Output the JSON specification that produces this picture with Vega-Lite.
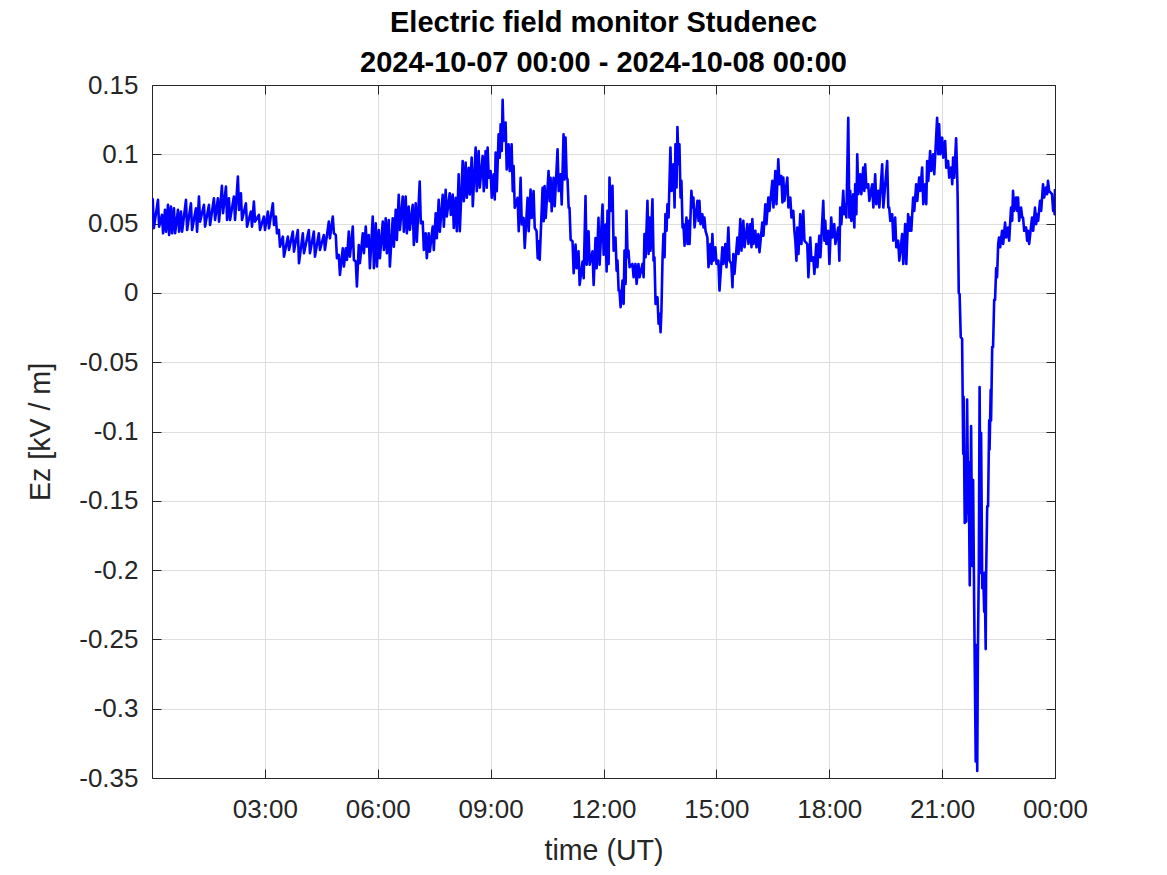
{
"$schema": "https://vega.github.io/schema/vega-lite/v6.json",
"width": 903, "height": 693,
"autosize": {"type": "none"},
"padding": {"left": 152, "top": 85, "right": 112, "bottom": 97},
"background": "white",
"config": {"view": {"stroke": null}, "font": "Liberation Sans"},
"title": {"text": ["Electric field monitor Studenec", "2024-10-07 00:00 - 2024-10-08 00:00"], "font": "Liberation Sans", "fontSize": 29, "fontWeight": "bold", "color": "#000000", "lineHeight": 40, "offset": -6, "anchor": "middle"},
"data": {"values": [
{"t":0.019,"v":0.0683},{"t":0.049,"v":0.0467},{"t":0.159,"v":0.0671},{"t":0.189,"v":0.0478},{"t":0.265,"v":0.0563},{"t":0.295,"v":0.0430},{"t":0.345,"v":0.0599},{"t":0.375,"v":0.0442},{"t":0.425,"v":0.0635},{"t":0.455,"v":0.0418},{"t":0.504,"v":0.0623},{"t":0.534,"v":0.0430},{"t":0.584,"v":0.0611},{"t":0.614,"v":0.0430},{"t":0.690,"v":0.0599},{"t":0.720,"v":0.0442},{"t":0.770,"v":0.0587},{"t":0.800,"v":0.0442},{"t":0.903,"v":0.0671},{"t":0.933,"v":0.0454},{"t":1.035,"v":0.0647},{"t":1.065,"v":0.0454},{"t":1.168,"v":0.0611},{"t":1.198,"v":0.0442},{"t":1.248,"v":0.0695},{"t":1.278,"v":0.0514},{"t":1.381,"v":0.0635},{"t":1.411,"v":0.0478},{"t":1.513,"v":0.0635},{"t":1.543,"v":0.0490},{"t":1.646,"v":0.0683},{"t":1.676,"v":0.0526},{"t":1.752,"v":0.0683},{"t":1.782,"v":0.0514},{"t":1.858,"v":0.0772},{"t":1.888,"v":0.0575},{"t":1.965,"v":0.0767},{"t":1.995,"v":0.0526},{"t":2.044,"v":0.0683},{"t":2.074,"v":0.0526},{"t":2.177,"v":0.0695},{"t":2.207,"v":0.0526},{"t":2.283,"v":0.0839},{"t":2.313,"v":0.0599},{"t":2.363,"v":0.0719},{"t":2.393,"v":0.0526},{"t":2.496,"v":0.0647},{"t":2.526,"v":0.0478},{"t":2.628,"v":0.0587},{"t":2.658,"v":0.0478},{"t":2.708,"v":0.0659},{"t":2.738,"v":0.0514},{"t":2.841,"v":0.0563},{"t":2.871,"v":0.0454},{"t":2.973,"v":0.0551},{"t":3.003,"v":0.0454},{"t":3.080,"v":0.0587},{"t":3.110,"v":0.0466},{"t":3.212,"v":0.0647},{"t":3.242,"v":0.0490},{"t":3.292,"v":0.0551},{"t":3.322,"v":0.0430},{"t":3.372,"v":0.0454},{"t":3.402,"v":0.0334},{"t":3.478,"v":0.0406},{"t":3.508,"v":0.0262},{"t":3.611,"v":0.0406},{"t":3.641,"v":0.0310},{"t":3.743,"v":0.0442},{"t":3.773,"v":0.0298},{"t":3.876,"v":0.0454},{"t":3.906,"v":0.0214},{"t":4.009,"v":0.0430},{"t":4.039,"v":0.0286},{"t":4.168,"v":0.0454},{"t":4.198,"v":0.0286},{"t":4.301,"v":0.0442},{"t":4.331,"v":0.0262},{"t":4.434,"v":0.0430},{"t":4.464,"v":0.0310},{"t":4.566,"v":0.0418},{"t":4.596,"v":0.0310},{"t":4.699,"v":0.0514},{"t":4.729,"v":0.0394},{"t":4.805,"v":0.0551},{"t":4.835,"v":0.0430},{"t":4.885,"v":0.0418},{"t":4.915,"v":0.0250},{"t":4.965,"v":0.0274},{"t":4.995,"v":0.0130},{"t":5.071,"v":0.0322},{"t":5.101,"v":0.0190},{"t":5.151,"v":0.0322},{"t":5.181,"v":0.0238},{"t":5.230,"v":0.0442},{"t":5.260,"v":0.0262},{"t":5.336,"v":0.0478},{"t":5.366,"v":0.0238},{"t":5.416,"v":0.0226},{"t":5.446,"v":0.0046},{"t":5.496,"v":0.0346},{"t":5.526,"v":0.0214},{"t":5.602,"v":0.0430},{"t":5.632,"v":0.0286},{"t":5.681,"v":0.0478},{"t":5.711,"v":0.0334},{"t":5.761,"v":0.0418},{"t":5.791,"v":0.0178},{"t":5.867,"v":0.0551},{"t":5.897,"v":0.0178},{"t":5.947,"v":0.0502},{"t":5.977,"v":0.0190},{"t":6.027,"v":0.0454},{"t":6.057,"v":0.0250},{"t":6.133,"v":0.0514},{"t":6.163,"v":0.0310},{"t":6.212,"v":0.0539},{"t":6.242,"v":0.0286},{"t":6.292,"v":0.0526},{"t":6.322,"v":0.0190},{"t":6.398,"v":0.0539},{"t":6.428,"v":0.0334},{"t":6.478,"v":0.0599},{"t":6.508,"v":0.0382},{"t":6.558,"v":0.0707},{"t":6.588,"v":0.0454},{"t":6.664,"v":0.0695},{"t":6.694,"v":0.0442},{"t":6.743,"v":0.0695},{"t":6.773,"v":0.0430},{"t":6.823,"v":0.0623},{"t":6.853,"v":0.0454},{"t":6.929,"v":0.0635},{"t":6.959,"v":0.0346},{"t":7.009,"v":0.0647},{"t":7.039,"v":0.0370},{"t":7.115,"v":0.0803},{"t":7.145,"v":0.0502},{"t":7.195,"v":0.0514},{"t":7.225,"v":0.0310},{"t":7.274,"v":0.0430},{"t":7.304,"v":0.0250},{"t":7.354,"v":0.0430},{"t":7.384,"v":0.0298},{"t":7.460,"v":0.0478},{"t":7.490,"v":0.0310},{"t":7.540,"v":0.0575},{"t":7.570,"v":0.0394},{"t":7.620,"v":0.0671},{"t":7.650,"v":0.0442},{"t":7.726,"v":0.0707},{"t":7.756,"v":0.0478},{"t":7.805,"v":0.0743},{"t":7.835,"v":0.0551},{"t":7.912,"v":0.0719},{"t":7.942,"v":0.0563},{"t":7.991,"v":0.0710},{"t":8.021,"v":0.0469},{"t":8.071,"v":0.0686},{"t":8.101,"v":0.0445},{"t":8.151,"v":0.0855},{"t":8.181,"v":0.0445},{"t":8.257,"v":0.0952},{"t":8.287,"v":0.0662},{"t":8.336,"v":0.0940},{"t":8.366,"v":0.0686},{"t":8.416,"v":0.0903},{"t":8.446,"v":0.0710},{"t":8.496,"v":0.0976},{"t":8.526,"v":0.0626},{"t":8.602,"v":0.1048},{"t":8.632,"v":0.0734},{"t":8.682,"v":0.1024},{"t":8.712,"v":0.0759},{"t":8.788,"v":0.0988},{"t":8.818,"v":0.0734},{"t":8.867,"v":0.1024},{"t":8.897,"v":0.0759},{"t":8.920,"v":0.1048},{"t":8.950,"v":0.0831},{"t":9.000,"v":0.0879},{"t":9.030,"v":0.0686},{"t":9.080,"v":0.0855},{"t":9.110,"v":0.0674},{"t":9.133,"v":0.1012},{"t":9.163,"v":0.0734},{"t":9.212,"v":0.1145},{"t":9.242,"v":0.0976},{"t":9.266,"v":0.1217},{"t":9.296,"v":0.1024},{"t":9.319,"v":0.1394},{"t":9.349,"v":0.1097},{"t":9.398,"v":0.1229},{"t":9.428,"v":0.0891},{"t":9.478,"v":0.1072},{"t":9.508,"v":0.0879},{"t":9.558,"v":0.1072},{"t":9.588,"v":0.0734},{"t":9.611,"v":0.0915},{"t":9.641,"v":0.0614},{"t":9.717,"v":0.0686},{"t":9.747,"v":0.0445},{"t":9.797,"v":0.0831},{"t":9.827,"v":0.0493},{"t":9.876,"v":0.0541},{"t":9.906,"v":0.0324},{"t":9.982,"v":0.0686},{"t":10.012,"v":0.0445},{"t":10.062,"v":0.0746},{"t":10.092,"v":0.0541},{"t":10.142,"v":0.0734},{"t":10.172,"v":0.0469},{"t":10.221,"v":0.0445},{"t":10.251,"v":0.0251},{"t":10.274,"v":0.0372},{"t":10.304,"v":0.0239},{"t":10.381,"v":0.0759},{"t":10.411,"v":0.0517},{"t":10.434,"v":0.0771},{"t":10.464,"v":0.0541},{"t":10.540,"v":0.0879},{"t":10.570,"v":0.0662},{"t":10.593,"v":0.0831},{"t":10.623,"v":0.0589},{"t":10.673,"v":0.0831},{"t":10.703,"v":0.0626},{"t":10.779,"v":0.1036},{"t":10.809,"v":0.0734},{"t":10.859,"v":0.0855},{"t":10.889,"v":0.0638},{"t":10.938,"v":0.1145},{"t":10.968,"v":0.0819},{"t":10.991,"v":0.1121},{"t":11.021,"v":0.0831},{"t":11.044,"v":0.0819},{"t":11.074,"v":0.0614},{"t":11.097,"v":0.0614},{"t":11.127,"v":0.0384},{"t":11.177,"v":0.0372},{"t":11.207,"v":0.0143},{"t":11.257,"v":0.0348},{"t":11.287,"v":0.0179},{"t":11.336,"v":0.0300},{"t":11.366,"v":0.0058},{"t":11.443,"v":0.0227},{"t":11.473,"v":0.0106},{"t":11.522,"v":0.0698},{"t":11.552,"v":0.0203},{"t":11.602,"v":0.0445},{"t":11.632,"v":0.0203},{"t":11.708,"v":0.0300},{"t":11.738,"v":0.0058},{"t":11.788,"v":0.0396},{"t":11.818,"v":0.0179},{"t":11.867,"v":0.0541},{"t":11.897,"v":0.0203},{"t":11.974,"v":0.0638},{"t":12.004,"v":0.0276},{"t":12.053,"v":0.0493},{"t":12.083,"v":0.0155},{"t":12.106,"v":0.0592},{"t":12.136,"v":0.0209},{"t":12.159,"v":0.0832},{"t":12.189,"v":0.0592},{"t":12.239,"v":0.0772},{"t":12.269,"v":0.0305},{"t":12.319,"v":0.0400},{"t":12.349,"v":0.0161},{"t":12.372,"v":0.0233},{"t":12.402,"v":0.0017},{"t":12.425,"v":0.0017},{"t":12.455,"v":-0.0103},{"t":12.505,"v":0.0089},{"t":12.535,"v":-0.0079},{"t":12.558,"v":0.0305},{"t":12.588,"v":0.0065},{"t":12.611,"v":0.0592},{"t":12.641,"v":0.0257},{"t":12.664,"v":0.0305},{"t":12.694,"v":0.0185},{"t":12.770,"v":0.0209},{"t":12.800,"v":0.0113},{"t":12.850,"v":0.0209},{"t":12.880,"v":0.0065},{"t":12.929,"v":0.0209},{"t":12.959,"v":0.0113},{"t":13.036,"v":0.0209},{"t":13.066,"v":0.0113},{"t":13.089,"v":0.0424},{"t":13.119,"v":0.0257},{"t":13.168,"v":0.0664},{"t":13.198,"v":0.0281},{"t":13.221,"v":0.0544},{"t":13.251,"v":0.0305},{"t":13.301,"v":0.0676},{"t":13.331,"v":0.0233},{"t":13.354,"v":0.0257},{"t":13.384,"v":-0.0079},{"t":13.434,"v":-0.0031},{"t":13.464,"v":-0.0223},{"t":13.487,"v":-0.0151},{"t":13.517,"v":-0.0283},{"t":13.540,"v":-0.0127},{"t":13.570,"v":0.0257},{"t":13.593,"v":0.0424},{"t":13.623,"v":0.0257},{"t":13.646,"v":0.0568},{"t":13.676,"v":0.0448},{"t":13.699,"v":0.0640},{"t":13.729,"v":0.0544},{"t":13.779,"v":0.1048},{"t":13.809,"v":0.0736},{"t":13.859,"v":0.0928},{"t":13.889,"v":0.0616},{"t":13.912,"v":0.1072},{"t":13.942,"v":0.0760},{"t":13.965,"v":0.1197},{"t":13.995,"v":0.0928},{"t":14.018,"v":0.1072},{"t":14.048,"v":0.0688},{"t":14.071,"v":0.0808},{"t":14.101,"v":0.0472},{"t":14.124,"v":0.0496},{"t":14.154,"v":0.0341},{"t":14.204,"v":0.0544},{"t":14.234,"v":0.0353},{"t":14.257,"v":0.0520},{"t":14.287,"v":0.0353},{"t":14.336,"v":0.0736},{"t":14.366,"v":0.0616},{"t":14.390,"v":0.0688},{"t":14.420,"v":0.0472},{"t":14.496,"v":0.0664},{"t":14.526,"v":0.0520},{"t":14.549,"v":0.0664},{"t":14.579,"v":0.0496},{"t":14.628,"v":0.0568},{"t":14.658,"v":0.0472},{"t":14.682,"v":0.0544},{"t":14.712,"v":0.0448},{"t":14.761,"v":0.0400},{"t":14.791,"v":0.0185},{"t":14.841,"v":0.0353},{"t":14.871,"v":0.0209},{"t":14.894,"v":0.0424},{"t":14.924,"v":0.0233},{"t":14.974,"v":0.0329},{"t":15.004,"v":0.0209},{"t":15.053,"v":0.0233},{"t":15.083,"v":0.0017},{"t":15.159,"v":0.0329},{"t":15.189,"v":0.0209},{"t":15.239,"v":0.0353},{"t":15.269,"v":0.0185},{"t":15.319,"v":0.0472},{"t":15.349,"v":0.0233},{"t":15.398,"v":0.0209},{"t":15.428,"v":0.0041},{"t":15.451,"v":0.0281},{"t":15.481,"v":0.0137},{"t":15.558,"v":0.0400},{"t":15.588,"v":0.0281},{"t":15.637,"v":0.0532},{"t":15.667,"v":0.0305},{"t":15.717,"v":0.0520},{"t":15.747,"v":0.0329},{"t":15.823,"v":0.0496},{"t":15.853,"v":0.0353},{"t":15.903,"v":0.0496},{"t":15.933,"v":0.0329},{"t":15.956,"v":0.0532},{"t":15.986,"v":0.0353},{"t":16.036,"v":0.0448},{"t":16.066,"v":0.0329},{"t":16.115,"v":0.0424},{"t":16.145,"v":0.0293},{"t":16.221,"v":0.0508},{"t":16.251,"v":0.0412},{"t":16.301,"v":0.0640},{"t":16.331,"v":0.0496},{"t":16.381,"v":0.0688},{"t":16.411,"v":0.0592},{"t":16.487,"v":0.0808},{"t":16.517,"v":0.0616},{"t":16.567,"v":0.0880},{"t":16.597,"v":0.0640},{"t":16.646,"v":0.0964},{"t":16.676,"v":0.0784},{"t":16.726,"v":0.0844},{"t":16.756,"v":0.0652},{"t":16.779,"v":0.0832},{"t":16.809,"v":0.0664},{"t":16.885,"v":0.0832},{"t":16.915,"v":0.0616},{"t":16.965,"v":0.0688},{"t":16.995,"v":0.0544},{"t":17.044,"v":0.0592},{"t":17.074,"v":0.0448},{"t":17.098,"v":0.0377},{"t":17.128,"v":0.0233},{"t":17.151,"v":0.0472},{"t":17.181,"v":0.0281},{"t":17.230,"v":0.0568},{"t":17.260,"v":0.0353},{"t":17.310,"v":0.0592},{"t":17.340,"v":0.0377},{"t":17.416,"v":0.0353},{"t":17.446,"v":0.0113},{"t":17.496,"v":0.0400},{"t":17.526,"v":0.0233},{"t":17.575,"v":0.0257},{"t":17.605,"v":0.0137},{"t":17.655,"v":0.0353},{"t":17.685,"v":0.0185},{"t":17.735,"v":0.0412},{"t":17.765,"v":0.0257},{"t":17.841,"v":0.0664},{"t":17.871,"v":0.0377},{"t":17.894,"v":0.0520},{"t":17.924,"v":0.0353},{"t":17.974,"v":0.0448},{"t":18.004,"v":0.0209},{"t":18.053,"v":0.0544},{"t":18.083,"v":0.0400},{"t":18.133,"v":0.0496},{"t":18.163,"v":0.0353},{"t":18.239,"v":0.0472},{"t":18.269,"v":0.0233},{"t":18.292,"v":0.0616},{"t":18.322,"v":0.0496},{"t":18.372,"v":0.0736},{"t":18.402,"v":0.0568},{"t":18.425,"v":0.0640},{"t":18.455,"v":0.0544},{"t":18.505,"v":0.1264},{"t":18.535,"v":0.0544},{"t":18.558,"v":0.0736},{"t":18.588,"v":0.0520},{"t":18.637,"v":0.0712},{"t":18.667,"v":0.0472},{"t":18.690,"v":0.0784},{"t":18.720,"v":0.0568},{"t":18.744,"v":0.1000},{"t":18.774,"v":0.0712},{"t":18.823,"v":0.0856},{"t":18.853,"v":0.0712},{"t":18.903,"v":0.0904},{"t":18.933,"v":0.0736},{"t":18.956,"v":0.0928},{"t":18.986,"v":0.0760},{"t":19.036,"v":0.0784},{"t":19.066,"v":0.0664},{"t":19.142,"v":0.0784},{"t":19.172,"v":0.0616},{"t":19.221,"v":0.0856},{"t":19.251,"v":0.0640},{"t":19.301,"v":0.0736},{"t":19.331,"v":0.0616},{"t":19.407,"v":0.0928},{"t":19.437,"v":0.0616},{"t":19.540,"v":0.0952},{"t":19.570,"v":0.0616},{"t":19.593,"v":0.0616},{"t":19.623,"v":0.0520},{"t":19.673,"v":0.0568},{"t":19.703,"v":0.0377},{"t":19.752,"v":0.0544},{"t":19.782,"v":0.0329},{"t":19.832,"v":0.0377},{"t":19.862,"v":0.0233},{"t":19.938,"v":0.0424},{"t":19.968,"v":0.0209},{"t":20.018,"v":0.0496},{"t":20.048,"v":0.0209},{"t":20.097,"v":0.0568},{"t":20.127,"v":0.0448},{"t":20.151,"v":0.0544},{"t":20.181,"v":0.0448},{"t":20.230,"v":0.0688},{"t":20.260,"v":0.0592},{"t":20.310,"v":0.0784},{"t":20.340,"v":0.0664},{"t":20.390,"v":0.0832},{"t":20.420,"v":0.0736},{"t":20.469,"v":0.0904},{"t":20.499,"v":0.0640},{"t":20.549,"v":0.0784},{"t":20.579,"v":0.0640},{"t":20.602,"v":0.0952},{"t":20.632,"v":0.0808},{"t":20.682,"v":0.1024},{"t":20.712,"v":0.0880},{"t":20.761,"v":0.1000},{"t":20.791,"v":0.0856},{"t":20.867,"v":0.1264},{"t":20.897,"v":0.1000},{"t":20.920,"v":0.1216},{"t":20.950,"v":0.1000},{"t":21.000,"v":0.1120},{"t":21.030,"v":0.0976},{"t":21.080,"v":0.1096},{"t":21.110,"v":0.0904},{"t":21.159,"v":0.0952},{"t":21.189,"v":0.0832},{"t":21.239,"v":0.0904},{"t":21.269,"v":0.0784},{"t":21.292,"v":0.0976},{"t":21.322,"v":0.0832},{"t":21.372,"v":0.1115},{"t":21.402,"v":0.0832},{"t":21.412,"v":0.0700},{"t":21.442,"v":0.0000},{"t":21.465,"v":-0.001},{"t":21.495,"v":-0.032},{"t":21.531,"v":-0.033},{"t":21.561,"v":-0.116},{"t":21.571,"v":-0.075},{"t":21.601,"v":-0.166},{"t":21.611,"v":-0.123},{"t":21.641,"v":-0.165},{"t":21.664,"v":-0.077},{"t":21.694,"v":-0.159},{"t":21.704,"v":-0.122},{"t":21.734,"v":-0.211},{"t":21.770,"v":-0.096},{"t":21.800,"v":-0.197},{"t":21.823,"v":-0.135},{"t":21.853,"v":-0.228},{"t":21.863,"v":-0.257},{"t":21.893,"v":-0.338},{"t":21.903,"v":-0.254},{"t":21.933,"v":-0.345},{"t":21.950,"v":-0.261},{"t":21.975,"v":-0.199},{"t":21.996,"v":-0.068},{"t":22.026,"v":-0.202},{"t":22.036,"v":-0.101},{"t":22.066,"v":-0.213},{"t":22.089,"v":-0.202},{"t":22.119,"v":-0.230},{"t":22.128,"v":-0.202},{"t":22.158,"v":-0.257},{"t":22.168,"v":-0.206},{"t":22.198,"v":-0.154},{"t":22.221,"v":-0.154},{"t":22.251,"v":-0.092},{"t":22.261,"v":-0.113},{"t":22.291,"v":-0.070},{"t":22.301,"v":-0.092},{"t":22.331,"v":-0.039},{"t":22.354,"v":-0.039},{"t":22.384,"v":-0.005},{"t":22.407,"v":-0.005},{"t":22.437,"v":0.018},{"t":22.460,"v":0.0113},{"t":22.490,"v":0.0353},{"t":22.513,"v":0.0400},{"t":22.543,"v":0.0329},{"t":22.593,"v":0.0448},{"t":22.623,"v":0.0353},{"t":22.673,"v":0.0508},{"t":22.703,"v":0.0400},{"t":22.752,"v":0.0472},{"t":22.782,"v":0.0377},{"t":22.832,"v":0.0616},{"t":22.862,"v":0.0520},{"t":22.885,"v":0.0736},{"t":22.915,"v":0.0592},{"t":22.965,"v":0.0688},{"t":22.995,"v":0.0592},{"t":23.018,"v":0.0688},{"t":23.048,"v":0.0520},{"t":23.098,"v":0.0616},{"t":23.128,"v":0.0544},{"t":23.151,"v":0.0544},{"t":23.181,"v":0.0448},{"t":23.230,"v":0.0472},{"t":23.260,"v":0.0377},{"t":23.283,"v":0.0448},{"t":23.313,"v":0.0353},{"t":23.390,"v":0.0544},{"t":23.420,"v":0.0448},{"t":23.469,"v":0.0616},{"t":23.499,"v":0.0496},{"t":23.522,"v":0.0568},{"t":23.552,"v":0.0520},{"t":23.602,"v":0.0664},{"t":23.632,"v":0.0592},{"t":23.682,"v":0.0784},{"t":23.712,"v":0.0688},{"t":23.761,"v":0.0760},{"t":23.791,"v":0.0712},{"t":23.814,"v":0.0808},{"t":23.844,"v":0.0736},{"t":23.921,"v":0.0712},{"t":23.951,"v":0.0592},{"t":23.974,"v":0.0664},{"t":23.990,"v":0.0568},{"t":24.000,"v":0.0750}
]},
"layer": [
{"mark": {"type": "line", "color": "#0000ff", "strokeWidth": 2.6, "strokeJoin": "round", "clip": true},
 "encoding": {
  "x": {"field": "t", "type": "quantitative",
   "scale": {"domain": [0, 24], "nice": false, "zero": false},
   "axis": {"orient": "bottom", "values": [3, 6, 9, 12, 15, 18, 21, 24],
    "labelExpr": "(datum.value % 24 < 10 ? '0' : '') + (datum.value % 24) + ':00'",
    "title": "time (UT)", "titleFont": "Liberation Sans", "titleFontSize": 28.6, "titleFontWeight": "normal", "titleColor": "#262626", "titlePadding": 14,
    "labelFont": "Liberation Sans", "labelFontSize": 26, "labelColor": "#262626", "labelPadding": 27, "labelFlush": false, "labelOverlap": false,
    "tickSize": -9, "tickColor": "#262626", "tickWidth": 1,
    "domainColor": "#262626", "domainWidth": 1,
    "grid": true, "gridColor": "#dedede", "gridWidth": 1}},
  "y": {"field": "v", "type": "quantitative",
   "scale": {"domain": [-0.35, 0.15], "nice": false, "zero": false},
   "axis": {"orient": "left", "values": [-0.35, -0.3, -0.25, -0.2, -0.15, -0.1, -0.05, 0, 0.05, 0.1, 0.15],
    "labelExpr": "replace(format(datum.value, '.2~f'), '−', '-')",
    "title": "Ez [kV / m]", "titleFont": "Liberation Sans", "titleFontSize": 28.6, "titleFontWeight": "normal", "titleColor": "#262626", "titlePadding": 23,
    "labelFont": "Liberation Sans", "labelFontSize": 26, "labelColor": "#262626", "labelPadding": 23, "labelFlush": false, "labelOverlap": false,
    "tickSize": -9, "tickColor": "#262626", "tickWidth": 1,
    "domainColor": "#262626", "domainWidth": 1,
    "grid": true, "gridColor": "#dedede", "gridWidth": 1}}
 }},
{"mark": {"type": "line", "opacity": 0},
 "encoding": {
  "x": {"field": "t", "type": "quantitative",
   "axis": {"orient": "top", "values": [3, 6, 9, 12, 15, 18, 21, 24], "labels": false, "title": null,
    "tickSize": -9, "tickColor": "#262626", "domainColor": "#262626", "grid": false}},
  "y": {"field": "v", "type": "quantitative",
   "axis": {"orient": "right", "values": [-0.35, -0.3, -0.25, -0.2, -0.15, -0.1, -0.05, 0, 0.05, 0.1, 0.15], "labels": false, "title": null,
    "tickSize": -9, "tickColor": "#262626", "domainColor": "#262626", "grid": false}}
 }}
],
"resolve": {"axis": {"x": "independent", "y": "independent"}}
}
